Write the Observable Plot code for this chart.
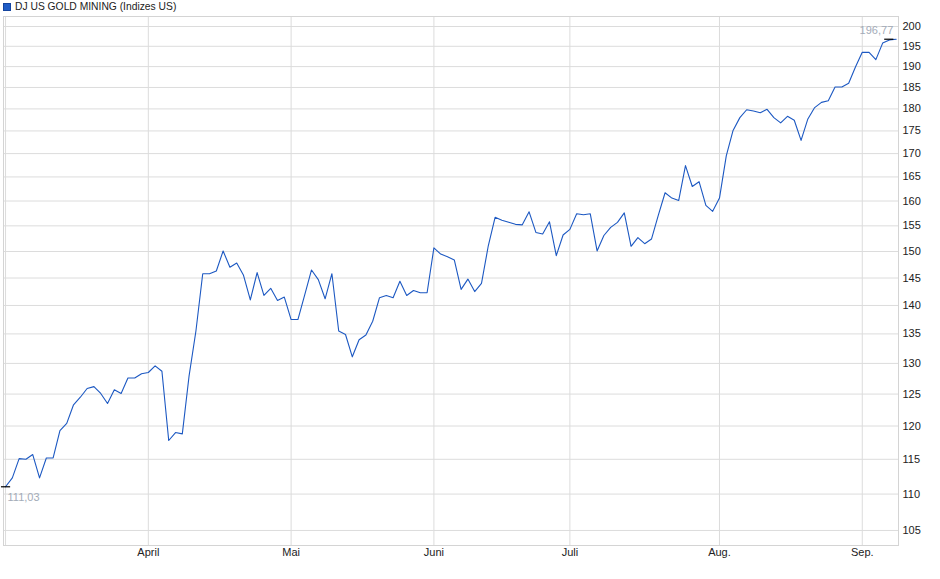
<!DOCTYPE html>
<html>
<head>
<meta charset="utf-8">
<script src="https://cdn.jsdelivr.net/npm/d3@7"></script>
<script src="https://cdn.jsdelivr.net/npm/@observablehq/plot@0.6"></script>
<style>
  html, body { margin: 0; padding: 0; background: #fff; }
  body { width: 940px; height: 579px; overflow: hidden; font-family: "Liberation Sans", Arial, sans-serif; }
  #title { position: relative; height: 15px; font-size: 10.3px; color: #222; line-height: 14px; white-space: nowrap; }
  #title .sq { position: absolute; left: 3px; top: 3px; width: 6px; height: 6px; background: #1f5cc6; border: 1px solid #14449e; }
  #title .tx { position: absolute; left: 15px; top: 0px; }
  #chart svg { display: block; }
</style>
</head>
<body>
<div id="title"><span class="sq"></span><span class="tx">DJ US GOLD MINING (Indizes US)</span></div>
<div id="chart"></div>
<script>
const seriesName = "DJ US GOLD MINING (Indizes US)";

const dates = [
  "2025-03-03","2025-03-04","2025-03-05","2025-03-06","2025-03-07","2025-03-10","2025-03-11","2025-03-12","2025-03-13","2025-03-14",
  "2025-03-17","2025-03-18","2025-03-19","2025-03-20","2025-03-21","2025-03-24","2025-03-25","2025-03-26","2025-03-27","2025-03-28",
  "2025-03-31",
  "2025-04-01","2025-04-02","2025-04-03","2025-04-04","2025-04-07","2025-04-08","2025-04-09","2025-04-10","2025-04-11","2025-04-14",
  "2025-04-15","2025-04-16","2025-04-17","2025-04-21","2025-04-22","2025-04-23","2025-04-24","2025-04-25","2025-04-28","2025-04-29",
  "2025-04-30",
  "2025-05-01","2025-05-02","2025-05-05","2025-05-06","2025-05-07","2025-05-08","2025-05-09","2025-05-12","2025-05-13","2025-05-14",
  "2025-05-15","2025-05-16","2025-05-19","2025-05-20","2025-05-21","2025-05-22","2025-05-23","2025-05-27","2025-05-28","2025-05-29",
  "2025-05-30",
  "2025-06-02","2025-06-03","2025-06-04","2025-06-05","2025-06-06","2025-06-09","2025-06-10","2025-06-11","2025-06-12","2025-06-13",
  "2025-06-16","2025-06-17","2025-06-18","2025-06-20","2025-06-23","2025-06-24","2025-06-25","2025-06-26","2025-06-27","2025-06-30",
  "2025-07-01","2025-07-02","2025-07-03","2025-07-07","2025-07-08","2025-07-09","2025-07-10","2025-07-11","2025-07-14","2025-07-15",
  "2025-07-16","2025-07-17","2025-07-18","2025-07-21","2025-07-22","2025-07-23","2025-07-24","2025-07-25","2025-07-28","2025-07-29",
  "2025-07-30","2025-07-31",
  "2025-08-01","2025-08-04","2025-08-05","2025-08-06","2025-08-07","2025-08-08","2025-08-11","2025-08-12","2025-08-13","2025-08-14",
  "2025-08-15","2025-08-18","2025-08-19","2025-08-20","2025-08-21","2025-08-22","2025-08-25","2025-08-26","2025-08-27","2025-08-28",
  "2025-08-29",
  "2025-09-02","2025-09-03","2025-09-04","2025-09-05","2025-09-08","2025-09-09"
];

const values = [
  111.03,112.3,115.1,115.0,115.7,112.3,115.2,115.2,119.3,120.4,
  123.3,124.5,125.9,126.2,125.1,123.5,125.7,125.1,127.6,127.6,
  128.3,
  128.5,129.6,128.7,117.8,119.0,118.8,128.0,135.5,145.8,145.8,
  146.3,150.1,147.0,147.8,145.5,141.0,146.0,141.8,143.1,140.9,
  141.5,
  137.5,137.5,141.9,146.5,144.7,141.2,145.8,135.5,134.9,131.1,
  134.0,134.8,137.2,141.4,141.8,141.4,144.4,141.8,142.7,142.3,
  142.3,
  150.7,149.5,149.0,148.4,142.9,144.8,142.5,144.0,151.1,156.7,
  156.1,155.7,155.3,155.2,157.8,153.7,153.4,155.8,149.2,153.2,
  154.3,157.4,157.2,157.4,150.1,153.1,154.7,155.7,157.6,151.0,
  152.7,151.5,152.4,157.1,161.7,160.6,160.1,167.4,163.0,164.0,
  159.1,157.9,
  160.6,169.5,175.1,178.0,179.8,179.5,179.1,179.9,178.0,176.8,
  178.3,177.4,172.9,177.7,180.3,181.5,181.9,185.1,185.1,186.0,
  189.9,
  193.5,193.5,191.7,195.8,196.6,196.77
];

const yTicks = [105,110,115,120,125,130,135,140,145,150,155,160,165,170,175,180,185,190,195,200];
const monthNames = ["Jan.","Feb.","März","April","Mai","Juni","Juli","Aug.","Sep.","Okt.","Nov.","Dez."];

const data = dates.map((d, i) => ({i, date: d, v: values[i]}));

// first trading day of each month -> gridline position
const monthStarts = data.filter((d, k) => k === 0 || d.date.slice(5, 7) !== data[k - 1].date.slice(5, 7));
const monthTickIdx = monthStarts.map(d => d.i);
const monthLabel = new Map(monthStarts.map(d => [d.i, d.i === 0 ? "" : monthNames[+d.date.slice(5, 7) - 1]]));

const fmt = v => d3.format(".2f")(v).replace(".", ",");
const first = data[0];
const last = data[data.length - 1];

const chart = Plot.plot({
  width: 940,
  height: 564,
  marginTop: 1,
  marginBottom: 34,
  marginLeft: 3,
  marginRight: 42,
  style: {fontFamily: "'Liberation Sans', Arial, sans-serif", fontSize: "11px", background: "#fff", color: "#222"},
  x: {type: "linear", domain: [-0.3, 131.33]},
  y: {type: "log", domain: [103.0, 202.57]},
  marks: [
    Plot.gridY(yTicks, {stroke: "#dcdcdc", strokeOpacity: 1}),
    Plot.gridX(monthTickIdx, {stroke: "#dcdcdc", strokeOpacity: 1}),
    Plot.frame({stroke: "#d4d4d4"}),
    Plot.axisY(yTicks, {anchor: "right", tickSize: 0, tickPadding: 4, label: null, tickFormat: d => String(d), fill: "#222", fontSize: 11}),
    Plot.axisX(monthTickIdx, {anchor: "bottom", tickSize: 0, tickPadding: 3, label: null, tickFormat: i => monthLabel.get(i), fill: "#222", fontSize: 11}),
    Plot.line(data, {x: "i", y: "v", stroke: "#1c58c2", strokeWidth: 1.1}),
    Plot.ruleY([first], {x1: d => d.i - 0.6, x2: d => d.i + 0.75, y: "v", stroke: "#000", strokeWidth: 1.2}),
    Plot.ruleY([last], {x1: d => d.i - 1.7, x2: d => d.i - 0.35, y: "v", stroke: "#000", strokeWidth: 1.2}),
    Plot.text([first], {x: "i", y: "v", text: d => fmt(d.v), textAnchor: "start", dx: 2, dy: 11, fill: "#a3abb8", fontSize: 11}),
    Plot.text([last], {x: "i", y: "v", text: d => fmt(d.v), textAnchor: "end", dx: -3, dy: -9, fill: "#a3abb8", fontSize: 11})
  ]
});
document.getElementById("chart").appendChild(chart);
</script>
</body>
</html>
